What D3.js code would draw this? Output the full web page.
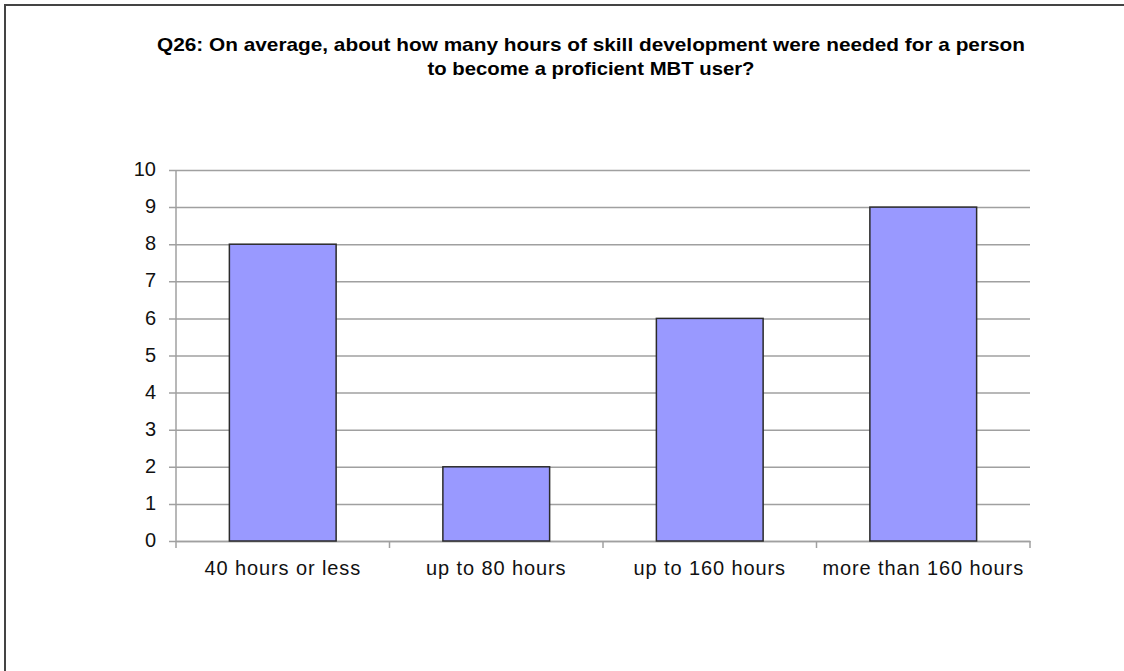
<!DOCTYPE html>
<html>
<head>
<meta charset="utf-8">
<script src="https://cdn.jsdelivr.net/npm/d3@7"></script>
<style>
  body { margin: 0; background: #fff; }
  svg { display: block; font-family: "Liberation Sans", Arial, sans-serif; }
</style>
</head>
<body>
<div id="chart"></div>
<script>
const categories = ['40 hours or less', 'up to 80 hours', 'up to 160 hours', 'more than 160 hours'];
const counts = [8, 2, 6, 9];
const yTicks = [0, 1, 2, 3, 4, 5, 6, 7, 8, 9, 10];
const titleLines = [
  'Q26: On average, about how many hours of skill development were needed for a person',
  'to become a proficient MBT user?'
];

const width = 1124;
const height = 671;
const margin = { top: 170, right: 94, bottom: 130, left: 176 };

const svg = d3.select('#chart').append('svg')
  .attr('width', width)
  .attr('height', height);

/* outer frame, runs off the right and bottom like the source */
svg.append('rect')
  .attr('x', 5)
  .attr('y', 5)
  .attr('width', width + 10)
  .attr('height', height + 10)
  .attr('fill', '#fff')
  .attr('stroke', '#444')
  .attr('stroke-width', 2);

/* title */
const titleWidths = [868, 327];
svg.append('g')
  .selectAll('text')
  .data(titleLines).enter()
  .append('text')
  .attr('x', 591)
  .attr('y', (d, i) => 51 + i * 24)
  .attr('text-anchor', 'middle')
  .attr('font-size', 19)
  .attr('font-weight', 'bold')
  .attr('textLength', (d, i) => titleWidths[i])
  .attr('lengthAdjust', 'spacingAndGlyphs')
  .text(d => d);

const innerW = width - margin.left - margin.right;
const innerH = 541 - margin.top;

const g = svg.append('g')
  .attr('transform', `translate(${margin.left}, ${margin.top})`);

/* Scale */
const x = d3.scaleBand()
  .domain(categories)
  .range([0, innerW])
  .paddingInner(0.5)
  .paddingOuter(0.25);

const y = d3.scaleLinear()
  .domain([0, 10])
  .range([innerH, 0]);

/* Axis */
const yAxis = d3.axisLeft(y)
  .tickValues(yTicks)
  .tickSizeInner(-innerW)
  .tickSizeOuter(0)
  .tickPadding(20);

g.append('g')
  .attr('class', 'y axis')
  .call(yAxis)
  .call(ax => {
    ax.select('.domain').remove();
    ax.selectAll('.tick line')
      .attr('stroke', '#a0a0a0')
      .attr('stroke-width', 1.5)
      .attr('x1', -7);
    ax.selectAll('.tick text')
      .attr('fill', '#111')
      .attr('font-size', 20)
      .attr('dy', '0.28em')
      .attr('font-family', '"Liberation Sans", Arial, sans-serif');
  });

g.append('line')
  .attr('x1', 0).attr('x2', 0)
  .attr('y1', 0).attr('y2', innerH)
  .attr('stroke', '#a0a0a0')
  .attr('stroke-width', 1.5);

const xAxis = d3.axisBottom(x)
  .tickSize(0)
  .tickPadding(20);

g.append('g')
  .attr('class', 'x axis')
  .attr('transform', `translate(0, ${innerH})`)
  .call(xAxis)
  .call(ax => {
    ax.select('.domain')
      .attr('stroke', '#a0a0a0')
      .attr('stroke-width', 1.5);
    ax.selectAll('.tick text')
      .attr('fill', '#111')
      .attr('font-size', 20)
      .attr('letter-spacing', '0.9px')
      .attr('dy', '0.71em')
      .attr('font-family', '"Liberation Sans", Arial, sans-serif');
  });

/* category separators under the x axis */
g.append('g')
  .selectAll('line')
  .data(d3.range(categories.length + 1)).enter()
  .append('line')
  .attr('x1', i => i * innerW / categories.length)
  .attr('x2', i => i * innerW / categories.length)
  .attr('y1', innerH)
  .attr('y2', innerH + 7)
  .attr('stroke', '#a0a0a0')
  .attr('stroke-width', 1.5);

/* bars */
g.append('g')
  .selectAll('rect')
  .data(counts).enter()
  .append('rect')
  .attr('x', (d, i) => x(categories[i]))
  .attr('y', d => y(d))
  .attr('width', x.bandwidth())
  .attr('height', d => innerH - y(d))
  .attr('fill', '#9999ff')
  .attr('stroke', '#2b2b2b')
  .attr('stroke-width', 1.5);
</script>
</body>
</html>
